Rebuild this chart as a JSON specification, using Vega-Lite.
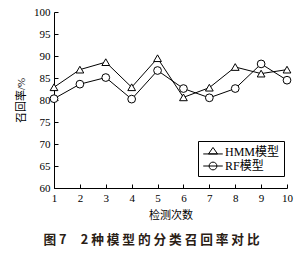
{
  "$schema": "https://vega.github.io/schema/vega-lite/v6.json",
  "width": 233,
  "height": 176,
  "autosize": {"type": "none"},
  "padding": {"left": 54, "top": 12, "right": 20, "bottom": 67},
  "background": "white",
  "title": {
    "text": "图\u00a07\u00a0\u00a0\u00a0\u00a0\u00a02 种 模 型 的 分 类 召 回 率 对 比",
    "orient": "bottom",
    "anchor": "middle",
    "dx": -19,
    "offset": 14,
    "font": "Noto Sans CJK SC",
    "fontSize": 12.7,
    "fontWeight": "bold",
    "color": "#2a2015"
  },
  "config": {
    "view": {"stroke": null},
    "axis": {
      "domainColor": "black",
      "tickColor": "black",
      "labelColor": "black",
      "titleColor": "black",
      "labelFont": "Liberation Serif",
      "labelFontSize": 11,
      "titleFont": "Liberation Serif, Noto Sans CJK SC",
      "titleFontSize": 11,
      "titleFontWeight": "normal",
      "grid": false,
      "tickSize": -4
    }
  },
  "data": {
    "values": [
      {"n": 1, "model": "HMM模型", "v": 82.9},
      {"n": 2, "model": "HMM模型", "v": 86.9},
      {"n": 3, "model": "HMM模型", "v": 88.6},
      {"n": 4, "model": "HMM模型", "v": 82.9},
      {"n": 5, "model": "HMM模型", "v": 89.5},
      {"n": 6, "model": "HMM模型", "v": 80.6},
      {"n": 7, "model": "HMM模型", "v": 82.8},
      {"n": 8, "model": "HMM模型", "v": 87.5},
      {"n": 9, "model": "HMM模型", "v": 86.0},
      {"n": 10, "model": "HMM模型", "v": 86.9},
      {"n": 1, "model": "RF模型", "v": 80.3},
      {"n": 2, "model": "RF模型", "v": 83.6},
      {"n": 3, "model": "RF模型", "v": 85.1},
      {"n": 4, "model": "RF模型", "v": 80.2},
      {"n": 5, "model": "RF模型", "v": 86.7},
      {"n": 6, "model": "RF模型", "v": 82.6},
      {"n": 7, "model": "RF模型", "v": 80.5},
      {"n": 8, "model": "RF模型", "v": 82.6},
      {"n": 9, "model": "RF模型", "v": 88.2},
      {"n": 10, "model": "RF模型", "v": 84.5}
    ]
  },
  "encoding": {
    "x": {
      "field": "n",
      "type": "quantitative",
      "scale": {"domain": [1, 10], "nice": false},
      "axis": {
        "title": "检测次数",
        "values": [1, 2, 3, 4, 5, 6, 7, 8, 9, 10],
        "labelPadding": 8,
        "titlePadding": 6,
        "labelFlush": false
      }
    },
    "y": {
      "field": "v",
      "type": "quantitative",
      "scale": {"domain": [60, 100], "nice": false},
      "axis": {
        "title": "召回率/%",
        "values": [60, 65, 70, 75, 80, 85, 90, 95, 100],
        "labelPadding": 8,
        "titlePadding": 7
      }
    }
  },
  "layer": [
    {
      "mark": {"type": "line", "color": "black", "strokeWidth": 1},
      "encoding": {"detail": {"field": "model"}}
    },
    {
      "mark": {"type": "point", "filled": true, "fill": "white", "stroke": "black", "strokeWidth": 1, "size": 60, "opacity": 1},
      "encoding": {
        "shape": {
          "field": "model",
          "type": "nominal",
          "scale": {"domain": ["HMM模型", "RF模型"], "range": ["triangle-up", "circle"]},
          "legend": null
        }
      }
    },
    {
      "transform": [{"filter": "datum.n > 100"}],
      "mark": {"type": "point", "filled": false, "color": "black", "strokeWidth": 1, "size": 169, "opacity": 1},
      "encoding": {
        "shape": {
          "field": "model",
          "type": "nominal",
          "scale": {
            "domain": ["HMM模型", "RF模型"],
            "range": [
              "M-1.5,0.3L1.5,0.3M-0.7,0.3L0,-0.7L0.7,0.3Z",
              "M-1.5,0L1.5,0M-0.6,0A0.6,0.6 0 1,0 0.6,0A0.6,0.6 0 1,0 -0.6,0Z"
            ]
          },
          "legend": {
            "title": null,
            "orient": "none",
            "legendX": 144,
            "legendY": 129,
            "strokeColor": "black",
            "fillColor": "white",
            "padding": 4,
            "symbolOffset": 4,
            "symbolSize": 169,
            "symbolStrokeColor": "black",
            "symbolStrokeWidth": 1,
            "symbolOpacity": 1,
            "labelFont": "Liberation Serif, Noto Sans CJK SC",
            "labelFontSize": 12,
            "labelColor": "black",
            "labelOffset": 5,
            "rowPadding": 1
          }
        }
      }
    }
  ],
  "resolve": {"scale": {"shape": "independent"}}
}
